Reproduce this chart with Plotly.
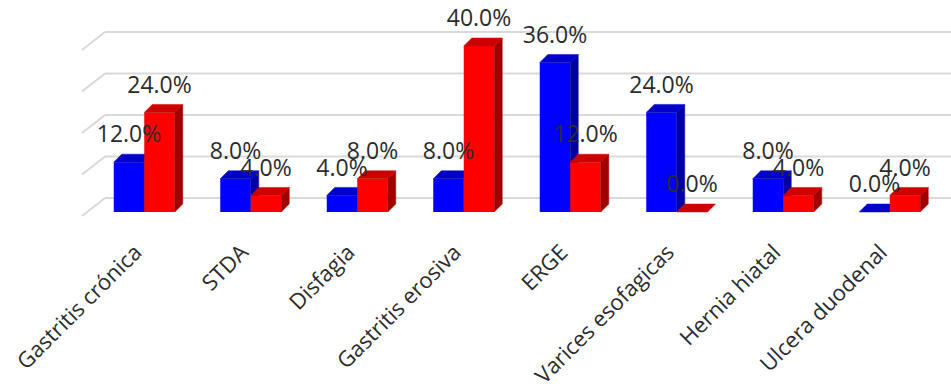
import plotly.graph_objects as go

# ---------------- data ----------------
categories = ["Gastritis crónica", "STDA", "Disfagia", "Gastritis erosiva",
              "ERGE", "Varices esofagicas", "Hernia hiatal", "Ulcera duodenal"]
serie_azul = [12.0, 8.0, 4.0, 8.0, 36.0, 24.0, 8.0, 0.0]
serie_roja = [24.0, 4.0, 8.0, 40.0, 12.0, 0.0, 4.0, 4.0]
grid_ticks = [0, 10, 20, 30, 40]

# ---------------- style / geometry ----------------
FIG_W, FIG_H = 951, 391
PLOT_L, PLOT_R = 91, 943
PLOT_T, PLOT_B = 20, 232
ZERO_PX = 212          # pixel row of the bars' base
PX_PER_PCT = 4.15
N = len(categories)
PX_PER_CAT = (PLOT_R - PLOT_L) / N
BAR_W = 30.5 / PX_PER_CAT
DX = 8 / PX_PER_CAT
DY = 8 / PX_PER_PCT
GRID_SHIFT = 14 / PX_PER_PCT
LABEL_GAP = 6 / PX_PER_PCT
Y_LO = -(PLOT_B - ZERO_PX) / PX_PER_PCT
Y_HI = (ZERO_PX - PLOT_T) / PX_PER_PCT

FONT = "Open Sans"
TXT = "#2b2b2b"
GRID = "#d9d9d9"

colors = {
    "azul": dict(front="#0000FF", top="#0000C8", side="#0000A0"),
    "roja": dict(front="#FF0000", top="#CC0000", side="#A00000"),
}


def poly(pts_list):
    xs, ys = [], []
    for pts in pts_list:
        for (x, y) in pts:
            xs.append(x)
            ys.append(y)
        xs.append(pts[0][0]); ys.append(pts[0][1])
        xs.append(None); ys.append(None)
    return xs, ys


def add_series(fig, vals, offset, col, yaxis):
    x = list(range(N))
    fig.add_trace(go.Bar(
        x=x, y=vals, offset=offset, width=BAR_W, yaxis=yaxis,
        marker=dict(color=col["front"], line=dict(width=0)),
        showlegend=False, hoverinfo="skip"))
    tops, sides = [], []
    for i, v in enumerate(vals):
        xl = i + offset
        xr = xl + BAR_W
        tops.append([(xl, v), (xr, v), (xr + DX, v + DY), (xl + DX, v + DY)])
        sides.append([(xr, 0), (xr + DX, DY), (xr + DX, v + DY), (xr, v)])
    for pts, c in ((sides, col["side"]), (tops, col["top"])):
        xs, ys = poly(pts)
        fig.add_trace(go.Scatter(
            x=xs, y=ys, mode="lines", fill="toself", fillcolor=c,
            line=dict(color=c, width=0.5), yaxis=yaxis,
            showlegend=False, hoverinfo="skip"))


fig = go.Figure()
add_series(fig, serie_azul, -BAR_W, colors["azul"], "y")
add_series(fig, serie_roja, 0.0, colors["roja"], "y2")

# data labels (drawn on the top layer so they sit over every bar)
for vals, offset in ((serie_azul, -BAR_W), (serie_roja, 0.0)):
    fig.add_trace(go.Scatter(
        x=[i + offset + BAR_W / 2 for i in range(N)],
        y=[v + DY + LABEL_GAP for v in vals],
        text=[f"{v:.1f}%" for v in vals],
        mode="text", textposition="top center",
        textfont=dict(family=FONT, size=23, color=TXT),
        cliponaxis=False, yaxis="y2", showlegend=False, hoverinfo="skip"))

# back-wall gridlines and floor diagonals
shapes = []
span = PLOT_R - PLOT_L
for t in grid_ticks:
    yv = t + GRID_SHIFT
    shapes.append(dict(type="line", xref="paper", yref="y", layer="below",
                       x0=(105 - PLOT_L) / span, x1=(FIG_W - PLOT_L) / span,
                       y0=yv, y1=yv, line=dict(color=GRID, width=2)))
    shapes.append(dict(type="line", xref="paper", yref="y", layer="below",
                       x0=(82 - PLOT_L) / span, x1=(105 - PLOT_L) / span,
                       y0=yv - 18 / PX_PER_PCT, y1=yv, line=dict(color=GRID, width=2)))

fig.update_layout(
    width=FIG_W, height=FIG_H,
    margin=dict(l=PLOT_L, r=FIG_W - PLOT_R, t=PLOT_T, b=FIG_H - PLOT_B),
    paper_bgcolor="white", plot_bgcolor="rgba(0,0,0,0)",
    barmode="overlay", shapes=shapes,
    xaxis=dict(range=[-0.5, N - 0.5], tickvals=list(range(N)), ticktext=categories,
               tickangle=-45, showgrid=False, zeroline=False, showline=False,
               automargin=False,
               ticks="", ticklabelstandoff=2, ticklabelshift=-9,
               tickfont=dict(family=FONT, size=22, color=TXT)),
    yaxis=dict(range=[Y_LO, Y_HI], visible=False, showgrid=False, zeroline=False,
               automargin=False),
    yaxis2=dict(range=[Y_LO, Y_HI], overlaying="y", visible=False,
                showgrid=False, zeroline=False, automargin=False),
)

fig.write_html("out.html")
